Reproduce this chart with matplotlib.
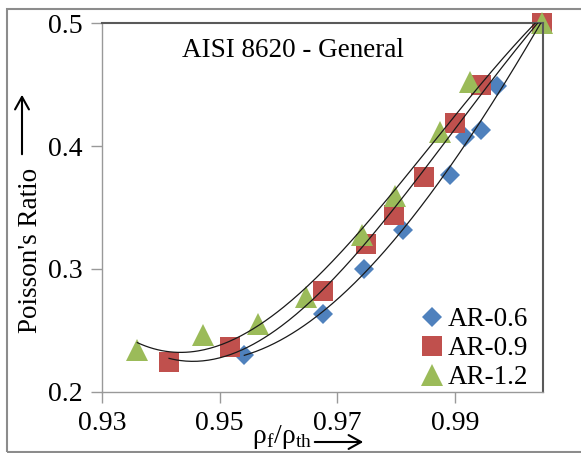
import numpy as np
import matplotlib
matplotlib.use("Agg")
import matplotlib.pyplot as plt
from matplotlib.patches import Rectangle, FancyArrowPatch

plt.rcParams['font.family'] = ['Liberation Serif', 'DejaVu Serif']
plt.rcParams['mathtext.fontset'] = 'custom'
plt.rcParams['mathtext.rm'] = 'Liberation Serif'

# Dane
x_06 = [0.9542, 0.9676, 0.9745, 0.9812, 0.9891, 0.9918, 0.9944, 0.9972, 1.0048]
y_06 = [0.2299, 0.2638, 0.2996, 0.3321, 0.3763, 0.4075, 0.4129, 0.4487, 0.500]
x_09 = [0.9414, 0.9518, 0.9676, 0.9749, 0.9796, 0.9847, 0.9900, 0.9944, 1.0048]
y_09 = [0.2244, 0.2366, 0.2822, 0.3207, 0.3438, 0.3750, 0.4184, 0.4496, 0.500]
x_12 = [0.9360, 0.9471, 0.9565, 0.9647, 0.9742, 0.9798, 0.9874, 0.9925, 1.0048]
y_12 = [0.2345, 0.2461, 0.2556, 0.2773, 0.3275, 0.3592, 0.4110, 0.4523, 0.500]
xticks = [0.93, 0.95, 0.97, 0.99]
yticks = [0.2, 0.3, 0.4, 0.5]

fig = plt.figure(figsize=(5.81, 4.53), dpi=100)
ax = fig.add_axes([0.1756, 0.1347, 0.7590, 0.8145])

# Ramka wokol calego wykresu (prawa krawedz poza obrazem)
fig.patches.append(Rectangle((7 / 581, 1.5 / 453), 590 / 581, 442.5 / 453, transform=fig.transFigure,
                             fill=False, edgecolor='#8c8c8c', linewidth=1.5))

series = [
    (x_06, y_06, 'D', '#4F81BD', 10.5, 'AR-0.6'),
    (x_09, y_09, 's', '#C0504D', 14, 'AR-0.9'),
    (x_12, y_12, '^', '#9BBB59', 16, 'AR-1.2'),
]

for xs, ys, m, c, s, lab in series:
    ax.plot(xs, ys, linestyle='none', marker=m, color=c, markersize=s,
            markeredgewidth=0, label=lab, zorder=2, clip_on=False)

# Linie trendu (wielomian 3 stopnia)
for xs, ys, m, c, s, lab in series:
    p = np.polyfit(xs, ys, 3)
    xx = np.linspace(min(xs), max(xs), 200)
    ax.plot(xx, np.polyval(p, xx), color='#1a1a1a', linewidth=0.9, zorder=3)

ax.set_xlim(0.93, 1.005)
ax.set_ylim(0.2, 0.5)
ax.set_xticks(xticks)
ax.set_xticklabels([f'{t:.2f}' for t in xticks])
ax.set_yticks(yticks)
ax.set_yticklabels([f'{t:.1f}' for t in yticks])
ax.tick_params(axis='both', direction='out', length=8, width=1, color='#999999',
               labelsize=20, pad=6)

for side in ['top', 'right']:
    ax.spines[side].set_color('#595959')
    ax.spines[side].set_linewidth(1.5)
for side in ['left', 'bottom']:
    ax.spines[side].set_color('#999999')
    ax.spines[side].set_linewidth(1)

ax.text(0.433, 0.925, 'AISI 8620 - General', transform=ax.transAxes,
        ha='center', va='center', fontsize=19.5)

ax.legend(loc='lower right', frameon=False, fontsize=19.5, handletextpad=0.0,
          labelspacing=0.15, borderaxespad=0.0, handlelength=1.1,
          bbox_to_anchor=(0.99, -0.025))

# Opisy osi ze strzalkami
fig.text(31 / 581, 1 - 250 / 453, "Poisson's Ratio", rotation=90,
         ha='center', va='center', fontsize=19.5)
fig.patches.append(FancyArrowPatch(
    (22 / 581, 1 - 157 / 453), (22 / 581, 1 - 92 / 453), transform=fig.transFigure,
    arrowstyle='->,head_width=5,head_length=9', color='black', linewidth=1.5,
    mutation_scale=1))

fig.text(282 / 581, 1 - 437 / 453, r'ρ$_{\mathrm{f}}$/ρ$_{\mathrm{th}}$',
         ha='center', va='center', fontsize=20)
fig.patches.append(FancyArrowPatch(
    (312 / 581, 1 - 442 / 453), (366 / 581, 1 - 442 / 453), transform=fig.transFigure,
    arrowstyle='->,head_width=5,head_length=9', color='black', linewidth=1.5,
    mutation_scale=1))

fig.savefig('out.png', dpi=100)
